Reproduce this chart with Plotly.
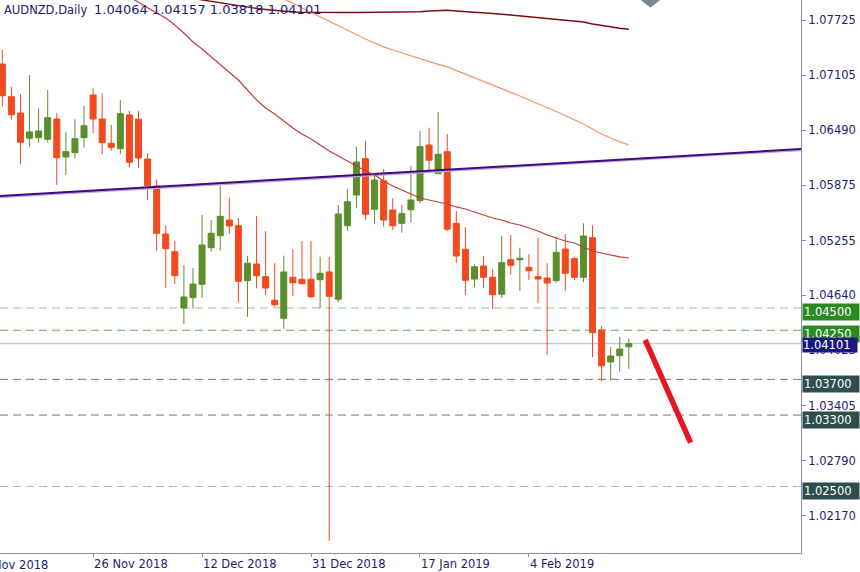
import plotly.graph_objects as go

# ---------------- data ----------------
pre_dates = ["2018-11-08", "2018-11-09"]  # bars just left of the visible window
dates = [
    "2018-11-12", "2018-11-13", "2018-11-14", "2018-11-15", "2018-11-16",
    "2018-11-19", "2018-11-20", "2018-11-21", "2018-11-22", "2018-11-23",
    "2018-11-26", "2018-11-27", "2018-11-28", "2018-11-29", "2018-11-30",
    "2018-12-03", "2018-12-04", "2018-12-05", "2018-12-06", "2018-12-07",
    "2018-12-10", "2018-12-11", "2018-12-12", "2018-12-13", "2018-12-14",
    "2018-12-17", "2018-12-18", "2018-12-19", "2018-12-20", "2018-12-21",
    "2018-12-24", "2018-12-26", "2018-12-27", "2018-12-28", "2018-12-31",
    "2019-01-02", "2019-01-03", "2019-01-04", "2019-01-07", "2019-01-08",
    "2019-01-09", "2019-01-10", "2019-01-11", "2019-01-14", "2019-01-15",
    "2019-01-16", "2019-01-17", "2019-01-18", "2019-01-21", "2019-01-22",
    "2019-01-23", "2019-01-24", "2019-01-25", "2019-01-28", "2019-01-29",
    "2019-01-30", "2019-01-31", "2019-02-01", "2019-02-04", "2019-02-05",
    "2019-02-06", "2019-02-07", "2019-02-08", "2019-02-11", "2019-02-12",
    "2019-02-13", "2019-02-14", "2019-02-15", "2019-02-18", "2019-02-19",
]
opens = [
    1.07232, 1.06866, 1.06683, 1.06400, 1.06407, 1.06389, 1.06616, 1.06191, 1.06239, 1.06407,
    1.06885, 1.06616, 1.06344, 1.06284, 1.06661, 1.06613, 1.06168, 1.05866, 1.05328, 1.05130,
    1.04499, 1.04615, 1.04765, 1.05175, 1.05309, 1.05485, 1.05421, 1.04805, 1.04992, 1.04850,
    1.04586, 1.04384, 1.04843, 1.04821, 1.04821, 1.04816, 1.04903, 1.04597, 1.05421, 1.05765,
    1.06172, 1.05605, 1.05925, 1.05597, 1.05448, 1.05600, 1.05701, 1.06325, 1.06004, 1.06250,
    1.05448, 1.05157, 1.04824, 1.04970, 1.04843, 1.04653, 1.05040, 1.05040, 1.04955, 1.04850,
    1.04835, 1.04805, 1.05160, 1.05052, 1.04843, 1.05287, 1.04253, 1.03895, 1.03965, 1.04064,
]
highs = [
    1.07389, 1.06978, 1.06896, 1.07109, 1.06736, 1.06941, 1.06680, 1.06474, 1.06613, 1.06765,
    1.06960, 1.06904, 1.06549, 1.06826, 1.06706, 1.06706, 1.06232, 1.05941, 1.05426, 1.05250,
    1.04981, 1.04947, 1.05541, 1.05485, 1.05869, 1.05739, 1.05507, 1.05082, 1.05530, 1.05362,
    1.05000, 1.05085, 1.05157, 1.05250, 1.05250, 1.05074, 1.05071, 1.05653, 1.05832, 1.06306,
    1.06370, 1.05989, 1.06056, 1.05728, 1.05653, 1.06090, 1.06482, 1.06519, 1.06695, 1.06448,
    1.05586, 1.05403, 1.04989, 1.05082, 1.04936, 1.05306, 1.05317, 1.05175, 1.05101, 1.05287,
    1.05000, 1.05298, 1.05328, 1.05074, 1.05448, 1.05426, 1.04298, 1.04063, 1.04175, 1.04157,
]
lows = [
    1.06754, 1.06605, 1.06109, 1.06306, 1.06351, 1.06351, 1.05877, 1.05989, 1.06176, 1.06295,
    1.06456, 1.06221, 1.06261, 1.06221, 1.06075, 1.06071, 1.05709, 1.05141, 1.04727, 1.04768,
    1.04320, 1.04492, 1.04615, 1.05130, 1.05141, 1.05328, 1.04559, 1.04399, 1.04720, 1.04645,
    1.04514, 1.04264, 1.04630, 1.04763, 1.04611, 1.04496, 1.01893, 1.04567, 1.05365, 1.05616,
    1.05485, 1.05437, 1.05410, 1.05373, 1.05343, 1.05455, 1.05672, 1.06045, 1.06004, 1.05362,
    1.05007, 1.04645, 1.04731, 1.04720, 1.04485, 1.04615, 1.04872, 1.04690, 1.04813, 1.04552,
    1.03973, 1.04783, 1.04690, 1.04813, 1.04787, 1.03947, 1.03674, 1.03690, 1.03786, 1.03818,
]
closes = [
    1.06877, 1.06664, 1.06355, 1.06471, 1.06482, 1.06631, 1.06183, 1.06250, 1.06396, 1.06541,
    1.06616, 1.06351, 1.06299, 1.06676, 1.06131, 1.06179, 1.05869, 1.05336, 1.05164, 1.04861,
    1.04623, 1.04768, 1.05205, 1.05336, 1.05526, 1.05418, 1.04798, 1.05000, 1.04861, 1.04723,
    1.04536, 1.04903, 1.04783, 1.04772, 1.04626, 1.04888, 1.04630, 1.05552, 1.05690, 1.06135,
    1.05549, 1.05933, 1.05485, 1.05421, 1.05556, 1.05709, 1.06306, 1.06154, 1.06221, 1.05381,
    1.05082, 1.04810, 1.04962, 1.04843, 1.04648, 1.05007, 1.04978, 1.05056, 1.04917, 1.04824,
    1.04779, 1.05123, 1.04888, 1.04843, 1.05306, 1.04223, 1.03853, 1.03962, 1.04040, 1.04101,
]

# moving averages (first visible bar index, values)
ma_red_start = 14
ma_red = [
    1.07983, 1.07921, 1.07859, 1.07803, 1.07747, 1.07669, 1.07579, 1.07479, 1.07400, 1.07311,
    1.07221, 1.07131, 1.07053, 1.06941, 1.06829, 1.06739, 1.06672, 1.06594, 1.06515, 1.06448,
    1.06392, 1.06325, 1.06258, 1.06202, 1.06146, 1.06090, 1.06034, 1.05989, 1.05922, 1.05866,
    1.05821, 1.05776, 1.05731, 1.05709, 1.05687, 1.05664, 1.05631, 1.05608, 1.05575, 1.05541,
    1.05507, 1.05485, 1.05451, 1.05429, 1.05395, 1.05362, 1.05317, 1.05283, 1.05250, 1.05227,
    1.05183, 1.05138, 1.05115, 1.05093, 1.05071, 1.05059,
]
ma_orange_start = 31
ma_orange = [
    1.07960, 1.07915, 1.07859, 1.07809, 1.07759, 1.07714, 1.07663, 1.07613, 1.07557, 1.07512,
    1.07467, 1.07423, 1.07389, 1.07355, 1.07322, 1.07288, 1.07255, 1.07227, 1.07199, 1.07159,
    1.07115, 1.07075, 1.07031, 1.06991, 1.06952, 1.06913, 1.06874, 1.06829, 1.06790, 1.06745,
    1.06700, 1.06655, 1.06611, 1.06560, 1.06504, 1.06448, 1.06403, 1.06359, 1.06325,
]
ma_maroon_start = 21
ma_maroon = [
    1.07966, 1.07949, 1.07932, 1.07915, 1.07899, 1.07882, 1.07871, 1.07854, 1.07843, 1.07831,
    1.07822, 1.07815, 1.07811, 1.07809, 1.07809, 1.07809, 1.07809, 1.07809, 1.07809, 1.07809,
    1.07809, 1.07809, 1.07809, 1.07809, 1.07811, 1.07817, 1.07826, 1.07834, 1.07835, 1.07826,
    1.07817, 1.07809, 1.07803, 1.07797, 1.07790, 1.07781, 1.07772, 1.07763, 1.07753, 1.07742,
    1.07731, 1.07719, 1.07710, 1.07703, 1.07680, 1.07663, 1.07647, 1.07632, 1.07621,
]

# trend line anchors (date, price)
trend_dates = ["2018-11-12", "2019-02-19"]
trend_prices = [1.05755, 1.06167]

# horizontal levels
levels = [1.04500, 1.04250, 1.03700, 1.03300, 1.02500]
level_line_colors = ["#8DCC8D", "#4DAE4D", "#6B7B79", "#6B7B79", "#AEB8B6"]
level_box_colors = ["#2C8A22", "#2C8A22", "#2F4F4F", "#2F4F4F", "#2F4F4F"]
level_label_shift = [-4.5, -3.3, -5, -4.5, -4.5]

# forecast arrow (bar offsets, prices)
arrow_bars = [70.8, 75.8]
arrow_prices = [1.04141, 1.02991]

# axes ticks
price_ticks = [1.07725, 1.07105, 1.06490, 1.05875, 1.05255, 1.04640, 1.04025, 1.03405, 1.02790, 1.02170]
date_ticks = ["2018-11-08", "2018-11-26", "2018-12-12", "2018-12-31", "2019-01-17", "2019-02-04"]
date_tick_text = ["8 Nov 2018", "26 Nov 2018", "12 Dec 2018", "31 Dec 2018", "17 Jan 2019", "4 Feb 2019"]

symbol = "AUDNZD,Daily"

# ---------------- styling ----------------
UP = "#5A8F2B"
DOWN = "#F24A1E"
AXIS = "#8C8CBC"
NAVY = "#1C1C72"
FONT = "DejaVu Sans"
x_range = [-0.253, 87.96]
y_range = [1.01755, 1.07949]
PLOT_W = 801

calendar = pre_dates + dates
off = len(pre_dates)
def idx(d):
    return calendar.index(d) - off

xi = list(range(len(dates)))
n = len(dates)

def pad(start, vals):
    return [None] * start + vals + [None] * (n - start - len(vals))

fig = go.Figure()

# trend line (extended across the chart)
tx0, tx1 = idx(trend_dates[0]), idx(trend_dates[1])
slope = (trend_prices[1] - trend_prices[0]) / (tx1 - tx0)
tx = [x_range[0], x_range[1]]
ty = [trend_prices[0] + slope * (v - tx0) for v in tx]
fig.add_trace(go.Scatter(x=tx, y=[v - 0.00013 for v in ty], mode="lines",
                         line=dict(color="#BBA9DE", width=2), hoverinfo="skip"))
fig.add_trace(go.Scatter(x=tx, y=ty, mode="lines",
                         line=dict(color="#3E0C7E", width=2), hoverinfo="skip"))

# moving averages
fig.add_trace(go.Scatter(x=xi, y=pad(ma_maroon_start, ma_maroon), mode="lines",
                         line=dict(color="#7E0C0C", width=1.4), hoverinfo="skip"))
fig.add_trace(go.Scatter(x=xi, y=pad(ma_orange_start, ma_orange), mode="lines",
                         line=dict(color="#FB9366", width=1.3), hoverinfo="skip"))
fig.add_trace(go.Scatter(x=xi, y=pad(ma_red_start, ma_red), mode="lines",
                         line=dict(color="#C63B3B", width=1.2), hoverinfo="skip"))

# candles
fig.add_trace(go.Candlestick(
    x=xi, open=opens, high=highs, low=lows, close=closes,
    increasing=dict(line=dict(color=UP, width=1), fillcolor=UP),
    decreasing=dict(line=dict(color=DOWN, width=1), fillcolor=DOWN),
    whiskerwidth=0, hoverinfo="skip",
))

shapes = []
# current price line
shapes.append(dict(type="line", xref="paper", x0=0, x1=1, yref="y", y0=closes[-1], y1=closes[-1],
                   line=dict(color="#C6CBD4", width=1.5), layer="below"))
for lv, lc in zip(levels, level_line_colors):
    shapes.append(dict(type="line", xref="paper", x0=0, x1=1, yref="y", y0=lv, y1=lv,
                       line=dict(color=lc, width=1, dash="8px,5px"), layer="below"))
# forecast arrow
shapes.append(dict(type="line", xref="x", yref="y", x0=arrow_bars[0], x1=arrow_bars[1],
                   y0=arrow_prices[0], y1=arrow_prices[1],
                   line=dict(color="#E8171F", width=5.5)))
# chart-shift marker at the top
shapes.append(dict(type="path", xref="paper", yref="paper",
                   path="M 0.800 1 L 0.824 1 L 0.812 0.986 Z",
                   fillcolor="#7C8A98", line=dict(width=0)))

annotations = []
# header: symbol, then last bar OHLC
annotations.append(dict(
    xref="paper", yref="paper", x=0, y=1, xanchor="left", yanchor="top", xshift=2, yshift=-1,
    text=symbol, showarrow=False, font=dict(family=FONT, size=11.5, color=NAVY)))
annotations.append(dict(
    xref="paper", yref="paper", x=92 / PLOT_W, y=1, xanchor="left", yanchor="top", yshift=0,
    text=f"{opens[-1]:.5f} {highs[-1]:.5f} {lows[-1]:.5f} {closes[-1]:.5f}",
    showarrow=False, font=dict(family=FONT, size=13, color=NAVY)))
# price boxes
for lv, bc, sh in zip(levels, level_box_colors, level_label_shift):
    annotations.append(dict(
        xref="paper", yref="y", x=1, y=lv, xanchor="left", yanchor="middle", xshift=1, yshift=sh,
        text=f"{lv:.5f}", showarrow=False, bgcolor=bc, width=54, align="left", borderpad=1,
        font=dict(family=FONT, size=11.5, color="white")))
annotations.append(dict(
    xref="paper", yref="y", x=1, y=closes[-1], xanchor="left", yanchor="middle", xshift=1, yshift=-1.7,
    text=f"{closes[-1]:.5f}", showarrow=False, bgcolor="#1A1A7E", width=54, align="left", borderpad=0,
    font=dict(family=FONT, size=11.5, color="white")))

# partial first date label (tick lies left of the visible window)
tick_idx = [idx(d) for d in date_ticks]
first_frac = (tick_idx[0] - x_range[0]) / (x_range[1] - x_range[0])
annotations.append(dict(
    xref="paper", yref="paper", x=first_frac, y=0, xanchor="left", yanchor="top", xshift=-4, yshift=-3,
    text=date_tick_text[0], showarrow=False, font=dict(family=FONT, size=11.5, color=NAVY)))

fig.update_layout(
    width=860, height=572, margin=dict(l=0, r=59, t=0, b=19),
    paper_bgcolor="white", plot_bgcolor="white", showlegend=False,
    boxgap=0.34, boxgroupgap=0, shapes=shapes, annotations=annotations, hovermode=False,
)
fig.update_xaxes(
    range=x_range, showgrid=False, zeroline=False, showline=True, linecolor=AXIS, linewidth=1,
    ticks="outside", ticklen=3, tickcolor=AXIS, tickvals=tick_idx[1:], ticktext=date_tick_text[1:],
    ticklabelposition="outside right", tickfont=dict(family=FONT, size=11.5, color=NAVY),
    rangeslider=dict(visible=False), fixedrange=True,
)
fig.update_yaxes(
    side="right", range=y_range, showgrid=False, zeroline=False, showline=True, linecolor=AXIS,
    linewidth=1, ticks="outside", ticklen=4, tickcolor=AXIS, tickvals=price_ticks,
    ticktext=[f"{v:.5f}" for v in price_ticks], tickfont=dict(family=FONT, size=11.5, color=NAVY),
    fixedrange=True,
)

fig.write_html("out.html", config={"displayModeBar": False},
               post_script="document.body.style.margin='0';document.body.style.overflow='hidden';")
